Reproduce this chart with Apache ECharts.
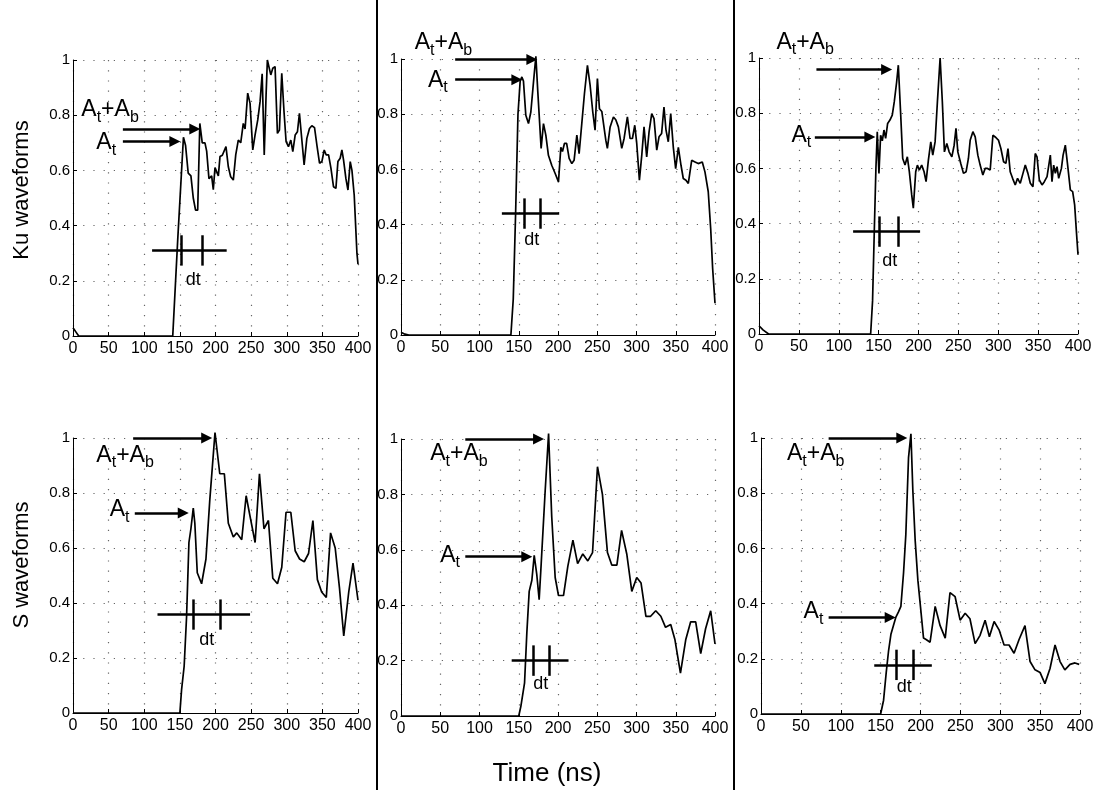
<!DOCTYPE html>
<html>
<head>
<meta charset="utf-8">
<script src="https://cdn.jsdelivr.net/npm/echarts@6/dist/echarts.min.js"></script>
<style>
  html, body { margin: 0; padding: 0; background: #fff; }
  #main { width: 1097px; height: 798px; }
</style>
</head>
<body>
<div id="main"></div>
<script>
// waveforms: [time (ns), normalised amplitude]
var ku1 = [[0,0.03],[4,0.015],[8,0],[140,0],[147,0.35],[155,0.72],[158,0.69],[161.7,0.59],[165.5,0.58],[168.8,0.5],[172,0.456],[175,0.456],[178,0.77],[181.4,0.7],[185.2,0.7],[187.6,0.67],[190.8,0.57],[194.6,0.58],[196.9,0.53],[199.3,0.61],[201.5,0.615],[204,0.58],[206.3,0.65],[209.6,0.655],[214.7,0.686],[218,0.613],[221.3,0.577],[225,0.565],[228.4,0.656],[232,0.71],[235.4,0.7],[239,0.77],[241.5,0.75],[245.2,0.88],[248.5,0.843],[252.3,0.674],[255.5,0.728],[259.3,0.783],[262.6,0.85],[265.5,0.95],[268.4,0.656],[271,0.873],[272.8,1.0],[274.5,0.995],[277.6,0.946],[280.4,0.97],[283.6,0.976],[286.9,0.734],[289.7,0.746],[293,0.952],[296.3,0.807],[299.1,0.704],[302.4,0.686],[305.7,0.71],[308.5,0.668],[311.8,0.728],[315,0.74],[317.8,0.807],[321.2,0.71],[324.4,0.62],[328.2,0.716],[331.9,0.752],[335.2,0.762],[339,0.755],[342.3,0.692],[346,0.626],[349.3,0.632],[352.6,0.674],[355.4,0.656],[358.7,0.656],[362,0.608],[365.6,0.541],[369,0.535],[371.8,0.632],[375,0.644],[377.4,0.674],[379.7,0.638],[383,0.571],[385.9,0.529],[389.1,0.632],[391.5,0.6],[394.7,0.51],[398.5,0.3],[400,0.26]];
var ku2 = [[0,0.01],[5,0.003],[10,0],[140,0],[143,0.13],[146,0.44],[149,0.8],[151.8,0.92],[154,0.935],[156,0.92],[159,0.796],[162.4,0.766],[165.4,0.808],[168.8,0.917],[171.8,1.01],[174.3,0.88],[178.5,0.676],[181.5,0.766],[184.5,0.724],[187.8,0.651],[192,0.615],[196.4,0.585],[200.6,0.555],[203.6,0.68],[205.7,0.665],[208.2,0.694],[211,0.694],[214.2,0.64],[217.6,0.621],[220.5,0.633],[224,0.724],[226.9,0.657],[230.3,0.766],[233.7,0.875],[237.5,0.977],[240.9,0.905],[244.3,0.808],[247.2,0.742],[250.2,0.929],[252.8,0.82],[255.8,0.81],[260.9,0.706],[262.9,0.676],[266.4,0.754],[270.6,0.79],[273.6,0.78],[276.9,0.754],[281.2,0.676],[284.2,0.712],[288.4,0.79],[291.8,0.712],[294.8,0.712],[297.8,0.76],[300.3,0.694],[303.7,0.561],[306.7,0.651],[309.6,0.754],[313,0.645],[316,0.736],[319.4,0.802],[322.3,0.784],[325.8,0.67],[328.7,0.718],[332,0.73],[335,0.826],[337.6,0.742],[340.5,0.7],[343.6,0.802],[346.9,0.68],[349.9,0.603],[353.3,0.68],[356.7,0.615],[359.6,0.567],[363,0.561],[366,0.549],[370.3,0.633],[374.5,0.627],[378.7,0.621],[383.8,0.627],[387.2,0.591],[391.4,0.519],[394.5,0.386],[397,0.241],[400,0.115]];
var ku3 = [[0,0.03],[5,0.015],[12,0],[140,0],[142.4,0.12],[144.5,0.365],[146.6,0.6],[148.3,0.733],[150.4,0.582],[152.5,0.72],[154.6,0.7],[156.7,0.739],[158.8,0.709],[161.3,0.763],[164.2,0.775],[167.1,0.793],[169.6,0.841],[172.6,0.913],[174.7,0.974],[177.7,0.793],[180.2,0.636],[183.1,0.612],[186,0.642],[188.5,0.588],[191.5,0.504],[193.5,0.456],[196.5,0.588],[198.6,0.612],[201,0.594],[204,0.612],[207,0.588],[209.5,0.552],[212.4,0.63],[215.4,0.696],[217.9,0.648],[220.8,0.696],[223.7,0.841],[227.1,1.0],[229.9,0.841],[232.5,0.66],[235.5,0.69],[238.4,0.66],[241.8,0.642],[244.7,0.684],[247,0.745],[249.3,0.66],[253,0.618],[256.4,0.582],[259.7,0.588],[262.6,0.636],[264.8,0.702],[268.2,0.733],[271.1,0.714],[274.4,0.648],[277.3,0.612],[280.7,0.576],[283.6,0.6],[286.5,0.6],[289.9,0.594],[293.3,0.72],[296.2,0.714],[300.3,0.702],[303.3,0.672],[306.7,0.624],[309.6,0.618],[312.2,0.672],[315,0.588],[318,0.564],[321.3,0.54],[324.2,0.564],[327.6,0.546],[331,0.582],[333.9,0.612],[337.2,0.582],[340.2,0.546],[343.5,0.534],[346.4,0.654],[348.6,0.642],[351.5,0.558],[354.9,0.54],[357.8,0.552],[361.2,0.57],[363.2,0.564],[365.3,0.648],[367.4,0.552],[369.5,0.612],[371.6,0.582],[373.7,0.606],[375.8,0.564],[379.2,0.6],[381.3,0.648],[384.1,0.684],[387,0.612],[390.4,0.522],[393.3,0.516],[395.8,0.468],[398,0.371],[400,0.287]];
var s1 = [[0,0],[150,0],[152.4,0.085],[156,0.17],[159.4,0.35],[162.7,0.62],[165.5,0.67],[168.8,0.745],[171,0.69],[174.4,0.51],[180.5,0.47],[186.6,0.56],[192,0.775],[199.3,1.02],[206,0.87],[212.4,0.87],[218,0.69],[225,0.64],[229.8,0.655],[236.8,0.63],[243,0.79],[248.5,0.715],[255.6,0.62],[261.7,0.87],[268,0.67],[274.3,0.7],[280.4,0.49],[287,0.47],[293,0.53],[299,0.73],[305.7,0.73],[311.8,0.59],[318,0.56],[324.5,0.55],[330.6,0.58],[336.7,0.7],[343,0.485],[349,0.44],[355.5,0.42],[361.5,0.655],[368,0.6],[374,0.455],[380,0.28],[387,0.44],[393,0.545],[400,0.41]];
var s2 = [[0,0],[150,0],[152.7,0.035],[157.4,0.12],[160.3,0.3],[163.3,0.45],[166.7,0.49],[169.7,0.58],[173,0.51],[176,0.42],[178.6,0.55],[183.7,0.815],[188,1.02],[192,0.72],[196.4,0.5],[200.6,0.435],[207,0.435],[212.5,0.54],[219,0.635],[225,0.55],[231.6,0.585],[238,0.56],[244,0.59],[250.3,0.9],[256.6,0.8],[263,0.59],[268.5,0.545],[275,0.545],[281,0.67],[287.6,0.585],[294,0.45],[300.3,0.5],[305.8,0.48],[312,0.36],[318,0.36],[324.5,0.38],[331,0.36],[337,0.32],[343.6,0.33],[349,0.275],[356,0.155],[362.7,0.275],[369,0.34],[375.4,0.34],[381.8,0.225],[388,0.315],[394.5,0.38],[400,0.26]];
var s3 = [[0,0],[150,0],[153.7,0.05],[157,0.15],[160,0.23],[163,0.29],[166,0.32],[169,0.35],[172.4,0.37],[175.4,0.39],[178.7,0.51],[181.6,0.65],[185,0.93],[188,1.015],[190.4,0.81],[193.3,0.63],[196.7,0.485],[199.6,0.4],[203.8,0.275],[207,0.27],[212,0.26],[218.4,0.39],[224.6,0.32],[231,0.275],[237,0.44],[243.4,0.425],[249.7,0.34],[256,0.365],[262,0.345],[268.5,0.255],[274.7,0.285],[281,0.34],[286.4,0.28],[292.3,0.335],[298.5,0.305],[304.8,0.25],[311,0.25],[317.3,0.22],[323.6,0.27],[331,0.32],[337.4,0.19],[343.6,0.16],[350,0.15],[356,0.11],[362.4,0.165],[368.7,0.25],[375,0.19],[381,0.16],[387.5,0.18],[393.7,0.185],[399,0.18]];

var waves = [ku1, ku2, ku3, s1, s2, s3];

// annotations in data units, one row per panel
var arrowSum = [[70, 171, 0.75], [69, 166.7, 0.998], [72, 160, 0.958], [84.4, 187.6, 1.0], [81.9, 175.2, 1.0], [84.8, 176.6, 1.0]]; // [from, to, y]
var arrowTop = [[70, 143, 0.705], [69, 147.6, 0.925], [70, 139, 0.714], [86.7, 154.7, 0.727], [81.9, 160.3, 0.575], [84.8, 162, 0.35]];
var dtBar = [[111, 215.7, 152.4, 181.5, 0.31], [128.5, 201.5, 156.5, 178, 0.44], [118, 202, 150.8, 174.7, 0.371], [118.6, 248.5, 168.8, 206.3, 0.358], [141, 213.4, 168.8, 189.2, 0.2], [142, 214.2, 169.5, 190.4, 0.178]]; // [from, to, tick1, tick2, y]
var labelSum = [[11.7, 0.79], [17.4, 1.03], [21.8, 1.028], [32.8, 0.907], [37.3, 0.917], [32.6, 0.913]]; // left, baseline
var labelTop = [[32.8, 0.67], [34.4, 0.893], [40.6, 0.69], [51.6, 0.71], [50, 0.55], [53.4, 0.34]];
var labelDt = [[168.8, 0.18], [166.7, 0.32], [164, 0.24], [187.6, 0.242], [178, 0.094], [179.5, 0.076]]; // centre, baseline

var xTicks = [0, 400, 50];
var yTicks = [0, 1, 0.2];

// panel boxes in pixels: left, top, width, height
var boxes = [
  [73, 60, 285, 276], [401, 59, 314, 276], [759, 58, 319, 276],
  [73, 438, 285, 275], [401, 439, 314, 277], [761, 438, 319, 276]
];

var FONT = '"Liberation Sans", Arial, Helvetica, sans-serif';
var chart = echarts.init(document.getElementById('main'));

var grids = [], xAxes = [], yAxes = [], series = [];
boxes.forEach(function (b, i) {
  grids.push({ left: b[0], top: b[1], width: b[2], height: b[3] });
  var common = {
    gridIndex: i,
    type: 'value',
    axisLine: { show: true, lineStyle: { color: '#000', width: 1 } },
    axisTick: { show: true, inside: true, length: 4, lineStyle: { color: '#000' } },
    splitLine: { show: true, lineStyle: { color: '#666', width: 1.2, type: [1.2, 9] } },
    axisLabel: { color: '#000', fontFamily: FONT }
  };
  xAxes.push(Object.assign({}, common, {
    min: xTicks[0], max: xTicks[1], interval: xTicks[2],
    axisLabel: Object.assign({}, common.axisLabel, { fontSize: 16, margin: 5 })
  }));
  yAxes.push(Object.assign({}, common, {
    min: yTicks[0], max: yTicks[1], interval: yTicks[2],
    axisLabel: Object.assign({}, common.axisLabel, { fontSize: 15, margin: 3 })
  }));

  var a1 = arrowSum[i], a2 = arrowTop[i], d = dtBar[i];
  var plain = { symbol: 'none' };
  series.push({
    type: 'line',
    xAxisIndex: i, yAxisIndex: i,
    data: waves[i],
    showSymbol: false,
    clip: false,
    silent: true,
    lineStyle: { color: '#000', width: 1.7 },
    markLine: {
      silent: true,
      animation: false,
      symbol: ['none', 'triangle'],
      symbolSize: 11,
      label: { show: false },
      lineStyle: { color: '#000', width: 2.5, type: 'solid' },
      data: [
        [{ coord: [a1[0], a1[2]] }, { coord: [a1[1], a1[2]] }],
        [{ coord: [a2[0], a2[2]] }, { coord: [a2[1], a2[2]] }],
        [Object.assign({ coord: [d[0], d[4]] }, plain), Object.assign({ coord: [d[1], d[4]] }, plain)],
        [Object.assign({ coord: [d[2], d[4] - 0.055] }, plain), Object.assign({ coord: [d[2], d[4] + 0.055] }, plain)],
        [Object.assign({ coord: [d[3], d[4] - 0.055] }, plain), Object.assign({ coord: [d[3], d[4] + 0.055] }, plain)]
      ]
    }
  });
});

chart.setOption({
  animation: false,
  backgroundColor: '#fff',
  grid: grids,
  xAxis: xAxes,
  yAxis: yAxes,
  series: series
});

// text annotations with subscripts
var ctx = document.createElement('canvas').getContext('2d');
function textW(t, size) {
  ctx.font = size + 'px ' + FONT;
  return ctx.measureText(t).width;
}
function txt(t, x, baseline, size, align) {
  return {
    type: 'text', silent: true, z: 100,
    x: x, y: baseline - 0.35 * size,
    style: { text: t, font: size + 'px ' + FONT, fill: '#000', textAlign: align || 'left', textVerticalAlign: 'middle' }
  };
}
function subLabel(px, py, parts) {
  var out = [], x = px;
  parts.forEach(function (p) {
    var size = p[1] ? 16 : 23;
    out.push(txt(p[0], x, py + (p[1] ? 5 : 0), size));
    x += textW(p[0], size);
  });
  return out;
}

var graphics = [];
for (var i = 0; i < 6; i++) {
  var pS = chart.convertToPixel({ gridIndex: i }, labelSum[i]);
  var pT = chart.convertToPixel({ gridIndex: i }, labelTop[i]);
  var pD = chart.convertToPixel({ gridIndex: i }, labelDt[i]);
  graphics = graphics.concat(subLabel(pS[0], pS[1], [['A', 0], ['t', 1], ['+A', 0], ['b', 1]]));
  graphics = graphics.concat(subLabel(pT[0], pT[1], [['A', 0], ['t', 1]]));
  graphics.push(txt('dt', pD[0], pD[1], 18, 'center'));
}

// row titles, shared x title and the panel separators
graphics.push({
  type: 'text', x: 22, y: 190, rotation: Math.PI / 2, silent: true,
  style: { text: 'Ku waveforms', font: '22px ' + FONT, fill: '#000', textAlign: 'center', textVerticalAlign: 'middle' }
});
graphics.push({
  type: 'text', x: 22, y: 565, rotation: Math.PI / 2, silent: true,
  style: { text: 'S waveforms', font: '22px ' + FONT, fill: '#000', textAlign: 'center', textVerticalAlign: 'middle' }
});
graphics.push({
  type: 'text', x: 547, y: 774, silent: true,
  style: { text: 'Time (ns)', font: '26px ' + FONT, fill: '#000', textAlign: 'center', textVerticalAlign: 'middle' }
});
[377, 734].forEach(function (x) {
  graphics.push({
    type: 'line', silent: true,
    shape: { x1: x, y1: 0, x2: x, y2: 790 },
    style: { stroke: '#000', lineWidth: 2 }
  });
});

chart.setOption({ graphic: graphics });
</script>
</body>
</html>
